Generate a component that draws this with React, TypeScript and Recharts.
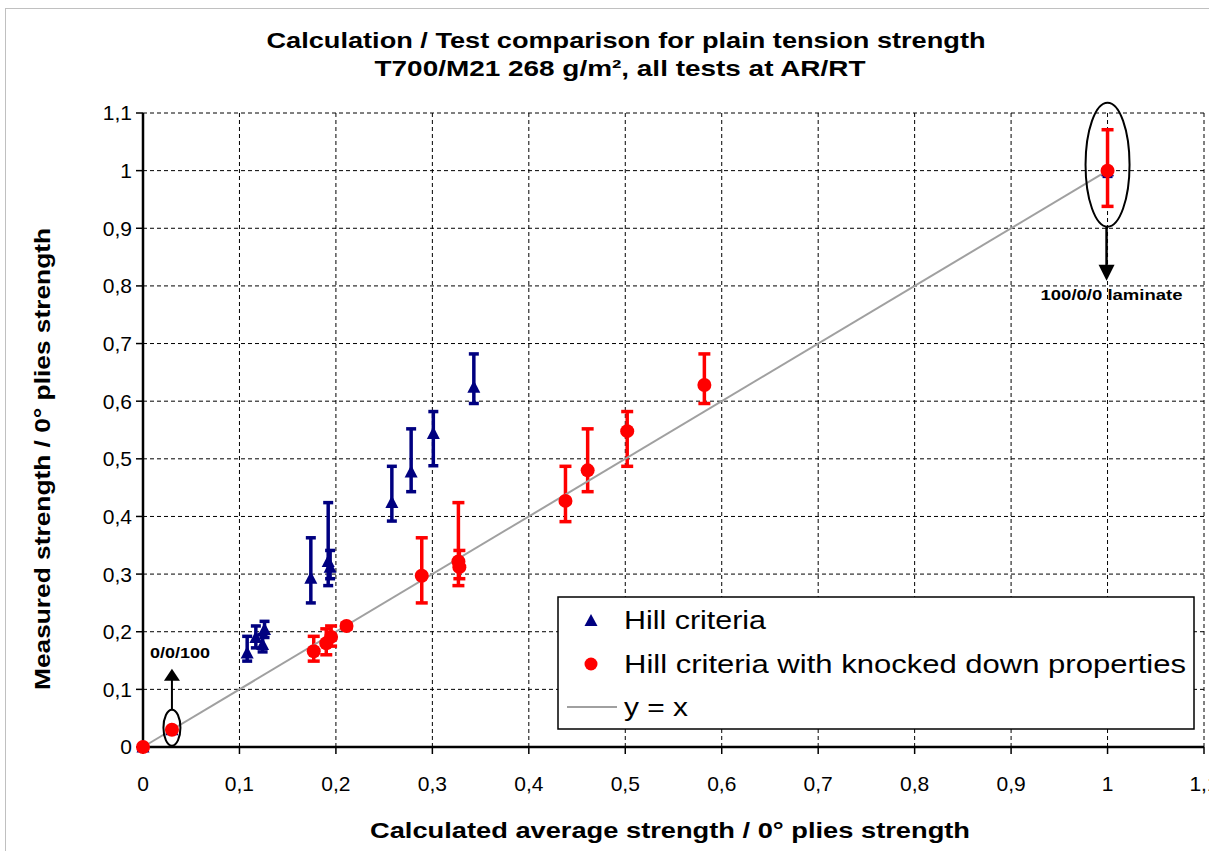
import React from 'react';
import { ScatterChart, Scatter, XAxis, YAxis, CartesianGrid, ErrorBar, ReferenceDot, Legend } from 'recharts';

const FONT = '"Liberation Sans", Arial, sans-serif';

const xTicks = [0, 0.1, 0.2, 0.3, 0.4, 0.5, 0.6, 0.7, 0.8, 0.9, 1, 1.1];
const yTicks = [0, 0.1, 0.2, 0.3, 0.4, 0.5, 0.6, 0.7, 0.8, 0.9, 1, 1.1];

const titleLine1 = 'Calculation / Test comparison for plain tension strength';
const titleLine2 = 'T700/M21 268 g/m², all tests at AR/RT';
const xTitle = 'Calculated average strength / 0° plies strength';
const yTitle = 'Measured strength / 0° plies strength';

const seriesNames = ['Hill criteria', 'Hill criteria with knocked down properties', 'y = x'];
const seriesColors = ['#000080', '#ff0000', '#a0a0a0'];

// Hill criteria
const hillX = [0, 0.03, 0.108, 0.117, 0.124, 0.126, 0.174, 0.192, 0.194, 0.258, 0.278, 0.301, 0.343, 1];
const hillY = [0, 0.03, 0.163, 0.19, 0.178, 0.204, 0.293, 0.322, 0.312, 0.424, 0.477, 0.544, 0.624, 1];
const hillLo = [0, 0.03, 0.149, 0.172, 0.165, 0.19, 0.25, 0.28, 0.292, 0.392, 0.443, 0.488, 0.596, 0.99];
const hillHi = [0, 0.03, 0.192, 0.21, 0.195, 0.218, 0.363, 0.424, 0.341, 0.487, 0.552, 0.582, 0.682, 1];

// Hill criteria with knocked down properties
const kdX = [0, 0.03, 0.177, 0.19, 0.195, 0.211, 0.289, 0.327, 0.328, 0.438, 0.461, 0.502, 0.582, 1];
const kdY = [0, 0.03, 0.166, 0.18, 0.191, 0.21, 0.297, 0.322, 0.312, 0.427, 0.48, 0.548, 0.628, 1];
const kdLo = [0, 0.03, 0.149, 0.16, 0.175, 0.205, 0.25, 0.28, 0.292, 0.391, 0.443, 0.487, 0.596, 0.938];
const kdHi = [0, 0.03, 0.192, 0.205, 0.21, 0.215, 0.363, 0.424, 0.341, 0.487, 0.552, 0.582, 0.682, 1.071];

// y = x
const lineX = [0, 1];
const lineY = [0, 1];

const build = (xs: number[], ys: number[], lo: number[], hi: number[]) =>
  xs.map((x, i) => ({ x, y: ys[i], err: [Math.max(0, ys[i] - lo[i]), Math.max(0, hi[i] - ys[i])] }));

const hillData = build(hillX, hillY, hillLo, hillHi);
const kdData = build(kdX, kdY, kdLo, kdHi);
const lineData = lineX.map((x, i) => ({ x, y: lineY[i] }));

const fmt = (v: number) => String(Math.round(v * 10) / 10).replace('.', ',');

const Triangle = (p: any) => {
  const { cx, cy } = p;
  if (cx == null || cy == null) return null;
  return <polygon points={`${cx},${cy - 7} ${cx + 6.5},${cy + 5.5} ${cx - 6.5},${cy + 5.5}`} fill="#000080" />;
};
const Dot = (p: any) => {
  const { cx, cy } = p;
  if (cx == null || cy == null) return null;
  return <circle cx={cx} cy={cy} r={7} fill="#ff0000" />;
};
const NoShape = () => null;

const SmallNote = (p: any) => {
  const { cx, cy } = p;
  if (cx == null || cy == null) return null;
  return (
    <g>
      <ellipse cx={cx} cy={cy - 2} rx={8.5} ry={18} fill="none" stroke="#000" strokeWidth={2} />
      <line x1={cx} y1={cy - 20} x2={cx} y2={cy - 50} stroke="#000" strokeWidth={2} />
      <polygon points={`${cx},${cy - 61} ${cx + 8},${cy - 49} ${cx - 8},${cy - 49}`} fill="#000" />
      <text x={cx + 8} y={cy - 72} textAnchor="middle" fontFamily={FONT} fontWeight="bold" fontSize={14}
        textLength={60} lengthAdjust="spacingAndGlyphs" fill="#000">0/0/100</text>
    </g>
  );
};

const BigNote = (p: any) => {
  const { cx, cy } = p;
  if (cx == null || cy == null) return null;
  return (
    <g>
      <ellipse cx={cx} cy={cy - 6} rx={22} ry={62} fill="none" stroke="#000" strokeWidth={2} />
      <line x1={cx - 1} y1={cy + 56} x2={cx - 1} y2={cy + 96} stroke="#000" strokeWidth={2.5} />
      <polygon points={`${cx - 1},${cy + 110} ${cx + 7},${cy + 94} ${cx - 9},${cy + 94}`} fill="#000" />
      <text x={cx + 4} y={cy + 129} textAnchor="middle" fontFamily={FONT} fontWeight="bold" fontSize={15}
        textLength={142} lengthAdjust="spacingAndGlyphs" fill="#000">100/0/0 laminate</text>
    </g>
  );
};

const LegendBox = () => (
  <svg width={640} height={136} style={{ display: 'block' }}>
    <rect x={1} y={1} width={636} height={132} fill="#fff" stroke="#000" strokeWidth={1.5} />
    <polygon points="34,18 40.5,30 27.5,30" fill={seriesColors[0]} />
    <text x={67} y={33} fontFamily={FONT} fontSize={26} textLength={142} lengthAdjust="spacingAndGlyphs" fill="#000">{seriesNames[0]}</text>
    <circle cx={34} cy={68} r={6.5} fill={seriesColors[1]} />
    <text x={67} y={77} fontFamily={FONT} fontSize={26} textLength={562} lengthAdjust="spacingAndGlyphs" fill="#000">{seriesNames[1]}</text>
    <line x1={10} y1={111} x2={60} y2={111} stroke={seriesColors[2]} strokeWidth={2} />
    <text x={67} y={120} fontFamily={FONT} fontSize={26} textLength={64} lengthAdjust="spacingAndGlyphs" fill="#000">{seriesNames[2]}</text>
  </svg>
);

export default function App() {
  return (
    <div style={{ position: 'absolute', left: 0, top: 0, width: 1209, height: 851, overflow: 'hidden', background: '#fff' }}>
      <div style={{ position: 'absolute', left: 5, top: 8, width: 1300, height: 900, borderLeft: '1px solid #c0c0c0', borderTop: '1px solid #c0c0c0' }} />
      <svg width={1209} height={851} style={{ position: 'absolute', left: 0, top: 0 }}>
        <text x={626} y={48} textAnchor="middle" fontFamily={FONT} fontWeight="bold" fontSize={22}
          textLength={719} lengthAdjust="spacingAndGlyphs" fill="#000">{titleLine1}</text>
        <text x={620} y={76} textAnchor="middle" fontFamily={FONT} fontWeight="bold" fontSize={22}
          textLength={491} lengthAdjust="spacingAndGlyphs" fill="#000">{titleLine2}</text>
        <text x={670} y={838} textAnchor="middle" fontFamily={FONT} fontWeight="bold" fontSize={22}
          textLength={600} lengthAdjust="spacingAndGlyphs" fill="#000">{xTitle}</text>
        <text x={0} y={0} transform="translate(50,459) rotate(-90)" textAnchor="middle" fontFamily={FONT} fontWeight="bold" fontSize={22}
          textLength={462} lengthAdjust="spacingAndGlyphs" fill="#000">{yTitle}</text>
      </svg>
      <div style={{ position: 'absolute', left: 0, top: 0 }}>
        <ScatterChart width={1209} height={851} margin={{ top: 113, right: 5, bottom: 0, left: 0 }}>
          <CartesianGrid stroke="#000" strokeDasharray="4 3" strokeWidth={1} />
          <XAxis type="number" dataKey="x" domain={[0, 1.1]} ticks={xTicks} tickFormatter={fmt} height={104}
            interval={0}
            axisLine={{ stroke: '#000', strokeWidth: 2.5 }} tickLine={{ stroke: '#000', strokeWidth: 1.5 }} tickSize={7} tickMargin={22}
            tick={{ fill: '#000', fontSize: 21, fontFamily: FONT }} />
          <YAxis type="number" dataKey="y" domain={[0, 1.1]} ticks={yTicks} tickFormatter={fmt} width={143}
            interval={0}
            axisLine={{ stroke: '#000', strokeWidth: 2.5 }} tickLine={{ stroke: '#000', strokeWidth: 1.5 }} tickSize={7} tickMargin={4}
            tick={{ fill: '#000', fontSize: 21, fontFamily: FONT }} />
          <Scatter name={seriesNames[2]} data={lineData} line={{ stroke: seriesColors[2], strokeWidth: 2 }} shape={NoShape} isAnimationActive={false} />
          <Scatter name={seriesNames[0]} data={hillData} shape={Triangle} fill={seriesColors[0]} isAnimationActive={false}>
            <ErrorBar dataKey="err" direction="y" width={5} stroke={seriesColors[0]} strokeWidth={3.5} isAnimationActive={false} />
          </Scatter>
          <Scatter name={seriesNames[1]} data={kdData} shape={Dot} fill={seriesColors[1]} isAnimationActive={false}>
            <ErrorBar dataKey="err" direction="y" width={6} stroke={seriesColors[1]} strokeWidth={3.5} isAnimationActive={false} />
          </Scatter>
          <ReferenceDot x={0.03} y={0.03} r={0} shape={SmallNote} ifOverflow="visible" />
          <ReferenceDot x={1} y={1} r={0} shape={BigNote} ifOverflow="visible" />
          <Legend layout="horizontal" verticalAlign="middle" align="center" content={LegendBox}
            wrapperStyle={{ position: 'absolute', left: 557, top: 596, width: 640, height: 136 }} />
        </ScatterChart>
      </div>
    </div>
  );
}
